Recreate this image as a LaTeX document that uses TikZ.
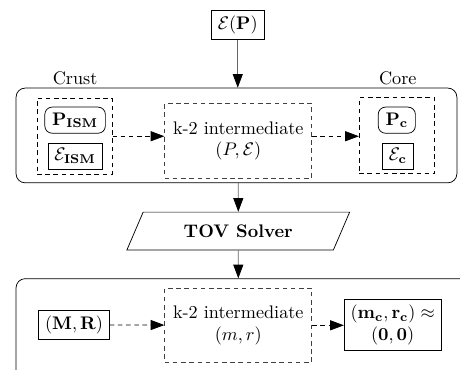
\documentclass[tikz,border=0pt]{standalone}
\usepackage{amsmath, amssymb}
\usetikzlibrary{shapes.geometric, arrows.meta}

\begin{document}
\begin{tikzpicture}
  [>={Triangle[length=7.5pt,width=5.5pt,black]},
   box/.style={draw,rectangle,inner xsep=3.5pt,inner ysep=3pt},
   rbox/.style={draw,rectangle,rounded corners=4pt,inner xsep=4pt,inner ysep=3pt},
   group/.style={draw,dash pattern=on 2.5pt off 2pt,minimum width=1.45cm,minimum height=1.47cm},
   stage/.style={draw=black!75,dash pattern=on 2.5pt off 2pt,align=center,minimum width=2.84cm,minimum height=1.43cm},
   outer/.style={draw,rounded corners=5pt},
   link/.style={->,dash pattern=on 2.5pt off 2pt},
   flow/.style={->,black!60}]
  \useasboundingbox (0,0) rectangle (8.88,-7.14);

  \node[box] (ep) at (4.59,-0.48) {$\mathcal{E}(\mathbf{P})$};

  \node[outer,minimum width=8.51cm,minimum height=1.83cm] (shell) at (4.565,-2.615) {};
  \node (crustlabel) at (1.45,-1.51) {Crust};
  \node (corelabel)  at (7.68,-1.51) {Core};
  \node[group] (crust) at (1.44,-2.63) {};
  \node[rbox] (pism) at (1.45,-2.32) {$\mathbf{P_{ISM}}$};
  \node[box]  (eism) at (1.45,-3.01) {$\mathcal{E}_{\mathbf{ISM}}$};
  \node[stage] (mideos) at (4.60,-2.72) {k-2 intermediate\\$(P,\mathcal{E})$};
  \node[group] (core) at (7.66,-2.62) {};
  \node[rbox] (pc) at (7.66,-2.32) {$\mathbf{P_c}$};
  \node[box]  (ec) at (7.68,-3.01) {$\mathcal{E}_{\mathbf{c}}$};

  \node[draw,trapezium,trapezium left angle=57,trapezium right angle=123,
        trapezium stretches body,minimum width=4.3cm,minimum height=0.73cm,
        font=\bfseries] (tov) at (4.60,-4.46) {TOV Solver};

  \node[outer,minimum width=8.9cm,minimum height=2.2cm] (star) at (4.76,-6.48) {};
  \node[box] (mr) at (1.43,-6.27) {$\mathbf{(M,R)}$};
  \node[stage] (midstar) at (4.60,-6.28) {k-2 intermediate\\$(m,r)$};
  \node[box,align=center] (center) at (7.58,-6.28)
    {$\mathbf{(m_c,r_c)}\approx$\\$\mathbf{(0,0)}$};

  \draw[flow] (ep) -- (ep |- shell.north);
  \draw[flow] (tov.north |- shell.south) -- (tov);
  \draw[flow] (tov) -- (tov.south |- star.north);
  \draw[link] (crust.east) -- (crust.east -| mideos.west);
  \draw[link] (mideos.east |- crust.east) -- (crust.east -| core.west);
  \foreach \from/\to in {mr/midstar,midstar/center}
    \draw[link] (\from) -- (\to);
\end{tikzpicture}
\end{document}
